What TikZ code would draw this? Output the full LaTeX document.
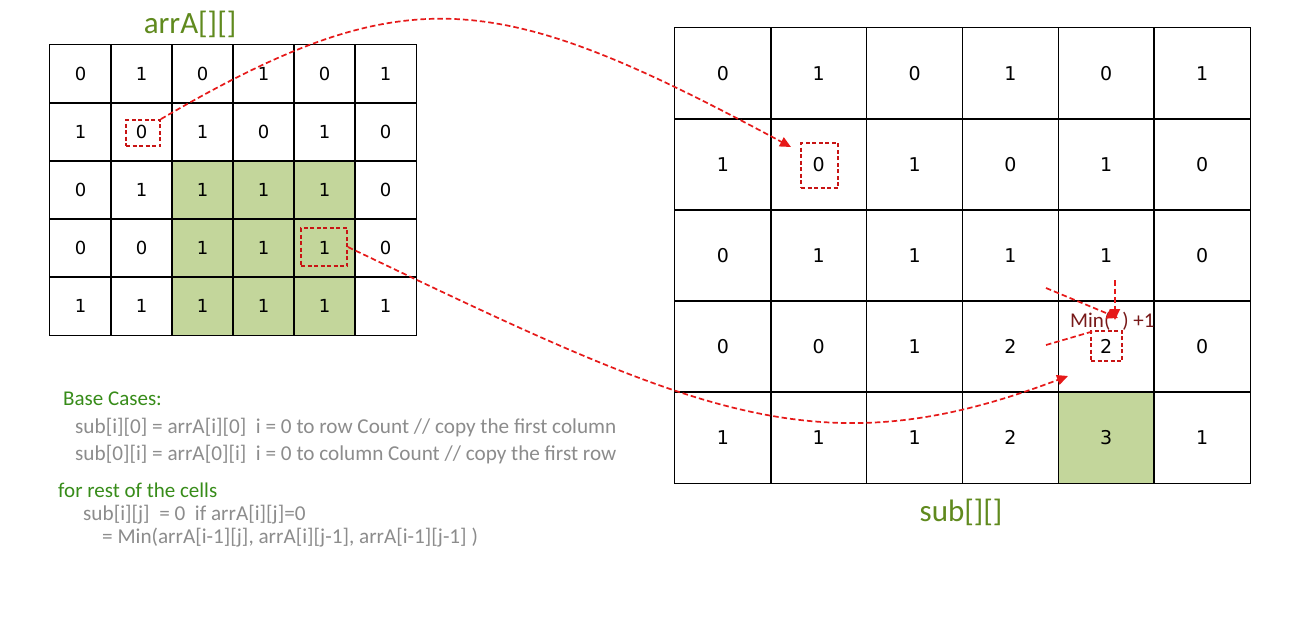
\documentclass[tikz,border=0pt]{standalone}
\usepackage{fontspec}
\setmainfont{Carlito}
\newfontfamily\cellfont{DejaVu Sans}
\usetikzlibrary{arrows.meta}
\definecolor{cellgreen}{RGB}{195,214,155}
\definecolor{titlegreen}{RGB}{96,138,30}
\definecolor{headgreen}{RGB}{55,140,25}
\definecolor{graytext}{RGB}{140,140,140}
\definecolor{connred}{RGB}{230,25,25}
\definecolor{boxred}{RGB}{200,20,20}
\definecolor{mintext}{RGB}{120,25,25}
\tikzset{
  cellA/.style={minimum width=61pt,minimum height=58pt,inner sep=0pt,font=\cellfont\fontsize{18}{21}\selectfont},
  cellB/.style={minimum width=95.83pt,minimum height=91pt,inner sep=0pt,font=\cellfont\fontsize{19}{22}\selectfont},
  gridline/.style={draw=black,line width=1.2pt},
  hl/.style={draw=boxred,line width=1.8pt,dash pattern=on 4pt off 2.5pt,inner sep=0pt},
  conn/.style={draw=connred,line width=1.7pt,dash pattern=on 5.5pt off 3pt},
  tip/.style={-{Triangle[length=11pt,width=10pt]}},
  title/.style={text=titlegreen,font=\fontsize{31}{36}\selectfont},
  head/.style={text=headgreen,font=\fontsize{21}{25}\selectfont,anchor=base west,inner sep=0pt},
  body/.style={text=graytext,font=\fontsize{21.2}{25}\selectfont,anchor=base west,inner sep=0pt}
}
\begin{document}
\begin{tikzpicture}[x=1pt,y=-1pt]
\useasboundingbox[fill=white] (0,0) rectangle (1309,619);
% left grid
\foreach \row [count=\r from 0] in {{0,1,0,1,0,1},{1,0,1,0,1,0},{0,1,1,1,1,0},{0,0,1,1,1,0},{1,1,1,1,1,1}}{
  \foreach \v [count=\c from 0] in \row {
    \pgfmathtruncatemacro\g{(\r>1)*(\c>1)*(\c<5)}
    \ifnum\g=1 \def\cf{cellgreen}\else\def\cf{white}\fi
    \node[cellA,fill=\cf] (A-\r-\c) at ({50+61*\c+30.5},{45+58*\r+29}) {\v};
  }
}
\foreach \r in {0,...,4}{\foreach \c in {0,...,5}{
  \draw[gridline] (A-\r-\c.north west) rectangle (A-\r-\c.south east);
}}
% right grid
\foreach \row [count=\r from 0] in {{0,1,0,1,0,1},{1,0,1,0,1,0},{0,1,1,1,1,0},{0,0,1,2,2,0},{1,1,1,2,3,1}}{
  \foreach \v [count=\c from 0] in \row {
    \pgfmathtruncatemacro\g{(\r==4)*(\c==4)}
    \ifnum\g=1 \def\cf{cellgreen}\else\def\cf{white}\fi
    \node[cellB,fill=\cf] (B-\r-\c) at ({675+95.83*\c+47.92},{28+91*\r+45.5}) {\v};
  }
}
\foreach \r in {0,...,4}{\foreach \c in {0,...,5}{
  \draw[gridline] (B-\r-\c.north west) rectangle (B-\r-\c.south east);
}}
% titles
\node[title] (tA) at (190,24) {arrA[][]};
\node[title] (tB) at (961,512) {sub[][]};
% highlight boxes
\node[hl,minimum width=34pt,minimum height=26pt] (hA1) at (143,133) {};
\node[hl,minimum width=46pt,minimum height=38pt] (hA2) at (324,247) {};
\node[hl,minimum width=37pt,minimum height=45pt] (hB1) at (819.5,165.5) {};
\node[hl,minimum width=31pt,minimum height=30pt] (hB2) at (1106.5,346) {};
% connectors
\coordinate (t1) at (791,147);
\coordinate (t2) at (1068,376);
\draw[conn,tip] (hA1.north east) .. controls (408,-25) and (497,-11) .. (t1);
\draw[conn,tip] (hA2.east) .. controls (697,414) and (818,471) .. (t2);
% Min text and its arrows
\node[text=mintext,font=\fontsize{21}{25}\selectfont,anchor=base west,inner sep=0pt] (minT) at (1070,327) {Min(\hspace{12pt}) +1};
\coordinate (m1s) at (1046,288);
\coordinate (m1e) at (1118,318);
\coordinate (m2s) at (1115,280);
\coordinate (m2e) at (1115,320);
\coordinate (m3s) at (1046,345);
\coordinate (m3e) at (1094,331);
\draw[conn,tip] (m1s) -- (m1e);
\draw[conn,tip] (m2s) -- (m2e);
\draw[conn] (m3s) -- (m3e);
% text
\node[head] (bc) at (63,405) {Base Cases:};
\node[body] (l1) at (75,433) {sub[i][0] = arrA[i][0]\ \ i = 0 to row Count // copy the first column};
\node[body] (l2) at (75,460) {sub[0][i] = arrA[0][i]\ \ i = 0 to column Count // copy the first row};
\node[head] (fr) at (58,497) {for rest of the cells};
\node[body] (l3) at (83,520) {sub[i][j]\ \ = 0\ \ if arrA[i][j]=0};
\node[body] (l4) at (102,543) {= Min(arrA[i-1][j], arrA[i][j-1], arrA[i-1][j-1] )};
\end{tikzpicture}
\end{document}
